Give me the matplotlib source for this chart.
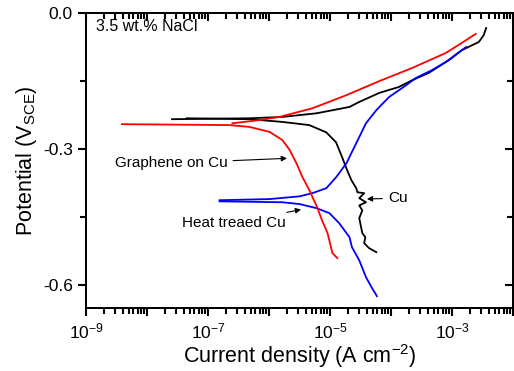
import matplotlib
matplotlib.use("Agg")
import matplotlib.pyplot as plt
import matplotlib.ticker as ticker
import numpy as np

plt.rcParams['font.family'] = ['Liberation Sans', 'DejaVu Sans']
plt.rcParams['mathtext.fontset'] = 'custom'
plt.rcParams['mathtext.rm'] = 'Liberation Sans'
plt.rcParams['mathtext.it'] = 'Liberation Sans:italic'
plt.rcParams['axes.unicode_minus'] = False

# log10 of current density (A cm^-2) and potential (V vs SCE)
graphene_cath_logi = [-8.41, -6.65, -6.32, -5.99, -5.78, -5.66, -5.55, -5.45, -5.34, -5.21, -5.13, -5.04, -4.96, -4.88]
graphene_cath_e = [-0.245, -0.247, -0.251, -0.262, -0.280, -0.302, -0.331, -0.362, -0.390, -0.428, -0.457, -0.485, -0.529, -0.540]
graphene_anod_logi = [-6.60, -6.16, -5.83, -5.29, -4.73, -4.19, -3.65, -3.10, -2.84, -2.61]
graphene_anod_e = [-0.243, -0.236, -0.229, -0.210, -0.181, -0.150, -0.121, -0.088, -0.066, -0.046]

cu_anod_logi = [-7.59, -6.32, -5.78, -5.22, -4.68, -4.52, -4.19, -3.87, -3.65, -3.38, -3.10, -2.84, -2.67, -2.56, -2.48, -2.44]
cu_anod_e = [-0.234, -0.232, -0.229, -0.221, -0.207, -0.196, -0.176, -0.163, -0.148, -0.132, -0.108, -0.082, -0.071, -0.064, -0.049, -0.033]
cu_cath_logi = [-7.35, -6.32, -5.78, -5.34, -5.06, -4.90, -4.80, -4.72, -4.65, -4.57, -4.55, -4.44, -4.52, -4.41, -4.52,
                -4.47, -4.52, -4.49, -4.47, -4.42, -4.44, -4.36, -4.24]
cu_cath_e = [-0.232, -0.234, -0.240, -0.247, -0.263, -0.285, -0.318, -0.346, -0.368, -0.386, -0.395, -0.397, -0.408,
             -0.417, -0.424, -0.435, -0.452, -0.472, -0.485, -0.494, -0.507, -0.518, -0.527]

heat_anod_logi = [-6.81, -5.99, -5.50, -5.29, -5.06, -4.90, -4.73, -4.57, -4.41, -4.24, -4.03, -3.75, -3.59, -3.33, -3.05, -2.77]
heat_anod_e = [-0.4125, -0.410, -0.404, -0.397, -0.386, -0.362, -0.331, -0.287, -0.243, -0.214, -0.185, -0.159, -0.143, -0.126, -0.104, -0.075]
heat_cath_logi = [-6.81, -5.78, -5.50, -5.22, -5.01, -4.85, -4.68, -4.64, -4.52, -4.41, -4.32, -4.23]
heat_cath_e = [-0.415, -0.417, -0.421, -0.430, -0.441, -0.463, -0.494, -0.516, -0.545, -0.582, -0.604, -0.624]

x_labelled = [1e-9, 1e-7, 1e-5, 1e-3]
y_major = [0.0, -0.3, -0.6]
y_minor = [-0.15, -0.45]

xlim = (1e-9, 1e-2)
ylim = (-0.65, 0.0)
decades = [10.0 ** k for k in range(-9, -1)]
subs = [m * 10.0 ** k for k in range(-9, -2) for m in range(2, 10)]

fig = plt.figure(figsize=(5.14, 3.71), dpi=100)
ax = fig.add_axes([0.1673, 0.1698, 0.8307, 0.7952])

lw = 1.3
ax.plot(10 ** np.array(cu_anod_logi), cu_anod_e, color='black', lw=lw)
ax.plot(10 ** np.array(cu_cath_logi), cu_cath_e, color='black', lw=lw)
ax.plot(10 ** np.array(heat_anod_logi), heat_anod_e, color='#0000ff', lw=lw)
ax.plot(10 ** np.array(heat_cath_logi), heat_cath_e, color='#0000ff', lw=lw)
ax.plot(10 ** np.array(graphene_anod_logi), graphene_anod_e, color='#ff0000', lw=lw)
ax.plot(10 ** np.array(graphene_cath_logi), graphene_cath_e, color='#ff0000', lw=lw)


def label_decade(v, p):
    if any(abs(v / t - 1) < 1e-6 for t in x_labelled):
        return r'10$^{%d}$' % round(np.log10(v))
    return ''


ax.set_xscale('log')
ax.set_xlim(*xlim)
ax.set_ylim(*ylim)
ax.xaxis.set_major_locator(ticker.FixedLocator(decades))
ax.xaxis.set_minor_locator(ticker.FixedLocator(subs))
ax.xaxis.set_major_formatter(ticker.FuncFormatter(label_decade))
ax.xaxis.set_minor_formatter(ticker.NullFormatter())
ax.yaxis.set_major_locator(ticker.FixedLocator(y_major))
ax.yaxis.set_minor_locator(ticker.FixedLocator(y_minor))
ax.yaxis.set_major_formatter(ticker.FormatStrFormatter('%.1f'))
ax.tick_params(which='major', direction='out', length=6, width=1.5, color='black', labelsize=12.5)
ax.tick_params(which='minor', direction='out', length=4, width=1.5, color='black')

# mirrored axes: ticks point inward on top and right
top = ax.twiny()
top.set_xscale('log')
top.set_xlim(*xlim)
top.xaxis.set_major_locator(ticker.FixedLocator(decades))
top.xaxis.set_minor_locator(ticker.FixedLocator(subs))
top.xaxis.set_major_formatter(ticker.NullFormatter())
top.xaxis.set_minor_formatter(ticker.NullFormatter())
top.tick_params(which='major', direction='in', length=6, width=1.5, color='black')
top.tick_params(which='minor', direction='in', length=4, width=1.5, color='black')

right = ax.twinx()
right.set_ylim(*ylim)
right.yaxis.set_major_locator(ticker.FixedLocator(y_major))
right.yaxis.set_minor_locator(ticker.FixedLocator(y_minor))
right.yaxis.set_major_formatter(ticker.NullFormatter())
right.tick_params(which='major', direction='in', length=6, width=1.5, color='black')
right.tick_params(which='minor', direction='in', length=4, width=1.5, color='black')

for a in (ax, top, right):
    for s in a.spines.values():
        s.set_linewidth(1.1)

ax.set_xlabel('Current density (A cm$^{-2}$)', fontsize=15.5, labelpad=1)
ax.set_ylabel('Potential (V$_{\\rm SCE}$)', fontsize=15.5, labelpad=3)

ax.text(0.024, 0.953, '3.5 wt.% NaCl', transform=ax.transAxes, fontsize=11.5, va='center', ha='left')

arrow = dict(arrowstyle='-|>', color='black', lw=0.8, mutation_scale=8)
ax.annotate('Graphene on Cu', xy=(10 ** -5.66, -0.320), xytext=(10 ** -6.68, -0.331),
            fontsize=11, ha='right', va='center', arrowprops=arrow)
ax.annotate('Cu', xy=(10 ** -4.44, -0.410), xytext=(10 ** -4.05, -0.408),
            fontsize=11, ha='left', va='center', arrowprops=arrow)
ax.annotate('Heat treaed Cu', xy=(10 ** -5.43, -0.432), xytext=(10 ** -5.72, -0.462),
            fontsize=11, ha='right', va='center', arrowprops=arrow)

fig.savefig('out.png', dpi=100)
